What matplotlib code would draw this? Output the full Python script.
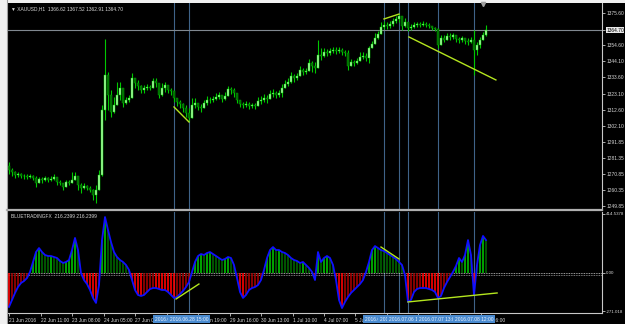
import numpy as np
import matplotlib.pyplot as plt
import matplotlib.transforms as mtransforms
from matplotlib.patches import Rectangle
from matplotlib.lines import Line2D

plt.rcParams['font.family'] = ['Liberation Sans Narrow', 'Liberation Sans', 'DejaVu Sans']

# XAUUSD price bars (2h-ish resampling of the H1 chart)
first_open = 1276.0
closes = [
    1273.3, 1272.0, 1270.1, 1270.7, 1269.4, 1269.4, 1268.8, 1269.4, 1268.1, 1264.9,
    1267.5, 1266.8, 1268.1, 1266.8, 1267.5, 1268.8, 1265.5, 1264.9, 1262.2, 1265.5,
    1264.9, 1266.8, 1269.4, 1263.5, 1261.6, 1262.9, 1261.6, 1260.3, 1257.0, 1260.3,
    1270.1, 1312.4, 1335.2, 1322.2, 1311.1, 1315.7, 1322.2, 1326.7, 1317.0, 1318.9,
    1320.2, 1333.3, 1330.0, 1328.0, 1325.4, 1326.7, 1327.4, 1326.7, 1331.3, 1330.0,
    1322.2, 1326.7, 1328.7, 1325.4, 1324.8, 1320.2, 1317.6, 1316.3, 1313.7, 1310.5,
    1307.2, 1315.7, 1317.0, 1314.4, 1313.7, 1317.0, 1318.9, 1318.9, 1319.6, 1320.9,
    1322.2, 1319.6, 1321.5, 1326.1, 1325.4, 1323.5, 1318.9, 1316.3, 1315.7, 1316.3,
    1315.0, 1315.7, 1315.0, 1318.3, 1318.9, 1320.2, 1319.6, 1322.8, 1323.5, 1322.2,
    1323.5, 1326.7, 1329.3, 1330.6, 1334.6, 1333.3, 1334.6, 1338.5, 1337.2, 1337.8,
    1343.0, 1341.1, 1339.8, 1348.2, 1347.6, 1350.2, 1349.5, 1350.8, 1351.5, 1350.8,
    1351.5, 1350.2, 1349.5, 1341.1, 1343.7, 1343.0, 1344.3, 1346.9, 1347.6, 1346.3,
    1352.8, 1355.4, 1359.3, 1361.9, 1366.5, 1367.8, 1367.1, 1368.4, 1370.4, 1371.7,
    1373.7, 1367.1, 1369.7, 1365.8, 1366.5, 1367.8, 1368.4, 1367.8, 1368.4, 1367.8,
    1367.1, 1365.8, 1365.2, 1354.8, 1359.3, 1358.0, 1360.6, 1360.0, 1361.3, 1358.7,
    1358.0, 1359.3, 1357.4, 1356.7, 1358.0, 1351.5, 1354.8, 1358.0, 1361.3, 1364.7]
highs = [
    1278.5, 1274.6, 1272.7, 1272.0, 1271.4, 1270.7, 1270.7, 1270.7, 1270.1, 1269.4,
    1268.8, 1268.8, 1269.4, 1268.8, 1269.4, 1270.7, 1268.1, 1266.8, 1264.9, 1266.8,
    1266.8, 1272.0, 1272.0, 1268.1, 1264.9, 1264.9, 1263.5, 1262.9, 1260.9, 1263.5,
    1273.3, 1315.7, 1358.7, 1337.2, 1325.4, 1320.9, 1330.7, 1330.7, 1320.9, 1320.9,
    1322.2, 1336.5, 1333.3, 1332.0, 1328.7, 1328.7, 1329.3, 1328.7, 1333.3, 1333.3,
    1326.7, 1330.0, 1330.7, 1327.4, 1326.7, 1325.4, 1320.2, 1318.9, 1317.0, 1315.7,
    1313.7, 1320.2, 1320.2, 1317.0, 1316.3, 1318.9, 1321.5, 1320.9, 1321.5, 1323.5,
    1324.1, 1322.2, 1324.1, 1328.0, 1327.4, 1326.7, 1323.5, 1318.3, 1317.6, 1318.3,
    1317.6, 1317.0, 1317.0, 1320.9, 1321.5, 1322.8, 1322.2, 1325.4, 1326.1, 1324.8,
    1325.4, 1329.3, 1332.0, 1333.3, 1337.2, 1335.9, 1336.5, 1341.1, 1339.8, 1339.8,
    1345.6, 1344.3, 1343.7, 1358.0, 1352.8, 1352.8, 1352.2, 1352.8, 1353.5, 1353.5,
    1353.5, 1352.8, 1351.5, 1351.5, 1345.6, 1345.0, 1346.3, 1350.2, 1350.2, 1349.5,
    1354.1, 1357.4, 1362.6, 1363.9, 1369.7, 1370.4, 1369.7, 1370.4, 1372.3, 1373.7,
    1375.0, 1373.7, 1372.3, 1368.4, 1368.4, 1369.7, 1369.7, 1369.7, 1370.4, 1369.7,
    1369.1, 1367.1, 1366.5, 1365.8, 1361.3, 1361.3, 1362.6, 1362.6, 1362.6, 1360.6,
    1360.0, 1360.6, 1359.3, 1359.3, 1360.0, 1364.5, 1356.7, 1360.0, 1363.2, 1367.8]
lows = [
    1270.7, 1269.4, 1268.1, 1268.8, 1268.1, 1267.5, 1267.5, 1268.1, 1266.8, 1262.2,
    1265.5, 1264.9, 1266.2, 1265.5, 1266.2, 1266.8, 1263.5, 1263.5, 1260.3, 1263.5,
    1263.5, 1265.5, 1266.8, 1260.3, 1258.3, 1260.9, 1260.3, 1259.0, 1253.8, 1251.8,
    1261.6, 1269.4, 1305.9, 1312.4, 1307.9, 1310.5, 1315.7, 1318.9, 1314.4, 1316.3,
    1317.6, 1320.2, 1326.7, 1325.4, 1323.5, 1323.5, 1325.4, 1325.4, 1326.7, 1327.4,
    1320.2, 1321.5, 1324.1, 1323.5, 1322.2, 1317.6, 1315.0, 1313.7, 1311.1, 1307.9,
    1305.2, 1307.2, 1313.7, 1312.4, 1311.1, 1313.7, 1315.7, 1317.0, 1317.6, 1318.9,
    1319.6, 1317.6, 1318.9, 1322.2, 1322.8, 1320.9, 1317.0, 1314.4, 1313.7, 1314.4,
    1313.1, 1313.7, 1313.1, 1315.7, 1316.3, 1317.6, 1317.0, 1320.2, 1320.9, 1320.2,
    1320.9, 1320.9, 1326.7, 1328.0, 1330.0, 1330.7, 1332.0, 1335.9, 1335.2, 1335.9,
    1339.8, 1337.2, 1336.5, 1343.7, 1345.0, 1346.9, 1347.6, 1348.2, 1349.5, 1348.9,
    1349.5, 1348.2, 1347.6, 1338.5, 1341.7, 1341.1, 1342.4, 1345.0, 1345.6, 1344.3,
    1343.0, 1352.8, 1356.7, 1358.7, 1362.6, 1365.2, 1365.2, 1365.8, 1367.1, 1369.1,
    1369.7, 1364.5, 1366.5, 1363.9, 1364.5, 1365.8, 1366.5, 1366.5, 1367.1, 1366.5,
    1365.8, 1364.5, 1363.9, 1352.8, 1355.4, 1356.7, 1358.0, 1358.0, 1358.7, 1356.7,
    1356.1, 1356.7, 1355.4, 1354.8, 1356.1, 1335.2, 1348.2, 1352.8, 1358.0, 1360.6]

# BLUETRADINGFX oscillator
indicator = [
    -242, -193, -144, -102, -74, -60, -39, 4, 74, 144,
    172, 144, 123, 116, 116, 109, 102, 81, 67, 74,
    88, 158, 243, 158, -5, -53, -81, -123, -179, -214,
    -88, 228, 390, 299, 214, 144, 109, 88, 74, 53,
    18, -53, -123, -158, -165, -158, -137, -116, -109, -109,
    -116, -123, -123, -137, -158, -179, -172, -151, -130, -102,
    -67, 4, 74, 116, 130, 123, 137, 144, 130, 116,
    102, 88, 95, 109, 102, 53, -39, -137, -179, -158,
    -123, -109, -102, -88, -53, 18, 102, 158, 179, 158,
    158, 144, 137, 123, 102, 88, 81, 67, 74, 53,
    32, 4, -53, 144, 74, 102, 116, 102, 53, -53,
    -193, -250, -207, -172, -144, -123, -102, -81, -53, 4,
    74, 158, 186, 172, 158, 151, 137, 123, 109, 95,
    74, 53, -18, -207, -193, -137, -116, -109, -109, -109,
    -116, -123, -137, -179, -165, -109, -67, -32, 4, 46,
    102, 74, 123, 228, 123, -158, 53, 193, 257, 228]

last_price = 1364.70
price_ticks = [1375.60, 1364.70, 1354.60, 1344.10, 1333.60, 1323.10, 1312.60,
               1302.10, 1291.85, 1281.35, 1270.85, 1260.35, 1249.85]
ind_ticks = [414.5378, 0.0, -271.018]
ind_tick_labels = ['414.5378', '0.00', '-271.018']
ind_level2 = -20

date_pos = [0, 10.5, 21, 31.5, 42, 52.5, 63, 73.5, 84, 94.5, 105, 115.5, 126, 136.5, 147, 157.5]
date_labels = ['21 Jun 2016', '22 Jun 11:00', '23 Jun 08:00', '24 Jun 05:00', '27 Jun 02:00',
               '27 Jun 22:00', '28 Jun 19:00', '29 Jun 16:00', '30 Jun 13:00', '1 Jul 10:00',
               '4 Jul 07:00', '5 Jul 04:00', '6 Jul 01:00', '6 Jul 22:00', '7 Jul 19:00',
               '8 Jul 16:00']

vlines_pos = [55, 60, 125, 130, 133, 143, 155]
vlines_labels = ['2016.06.28 05:00', '2016.06.28 15:00', '2016.07.06 00:00', '2016.07.06 10:00',
                 '2016.07.06 17:00', '2016.07.07 13:00', '2016.07.08 12:00']

# trend lines: (x0, y0, x1, y1)
price_trends = [(55, 1314.4, 60, 1304.6), (125, 1371.7, 130, 1374.9), (133.3, 1360.0, 162.3, 1332.0)]
ind_trends = [(55.7, -186, 63.3, -81), (124, 179, 130, 95), (133, -207, 162.7, -144)]

W, H = 625, 324
fig = plt.figure(figsize=(W / 100, H / 100), dpi=100, facecolor='#f0f0f0')


def px_box(l, t, r, b):
    return [l / W, 1 - b / H, (r - l) / W, (b - t) / H]


fig.add_artist(Rectangle((7 / W, 0), 1 - 7 / W, 1 - 3 / H, transform=fig.transFigure,
                         facecolor='black', edgecolor='none', zorder=0))
fig.add_artist(Line2D([6.5 / W, 6.5 / W], [0, 1], transform=fig.transFigure, color='#a0a0a0', lw=0.8))

ax = fig.add_axes(px_box(7, 3, 602, 210))
ax2 = fig.add_axes(px_box(7, 212, 602, 313))

grid_col = '#c8c8c8'
text_col = '#d8d8d8'
fsize = 3.5

for a in (ax, ax2):
    a.set_facecolor('black')
    for s in ('top', 'left'):
        a.spines[s].set_visible(False)
    a.spines['right'].set_color(grid_col)
    a.spines['right'].set_linewidth(0.8)
    a.yaxis.tick_right()
    a.tick_params(axis='y', colors=grid_col, labelcolor=text_col, labelsize=fsize,
                  length=2, width=0.6, pad=1)
    a.set_xlim(-0.67, 197.67)
ax2.tick_params(axis='y', labelsize=3.2, pad=0.6)

ax.spines['bottom'].set_color('#b0b0b0')
ax.spines['bottom'].set_linewidth(1.6)
ax2.spines['bottom'].set_color(grid_col)
ax2.spines['bottom'].set_linewidth(0.8)

# --- price panel
x = np.arange(len(closes))
c = np.array(closes)
o = np.r_[first_open, c[:-1]]
hi = np.maximum(np.array(highs), np.maximum(o, c))
lo = np.minimum(np.array(lows), np.minimum(o, c))
up = c >= o

ax.set_ylim(1247.3, 1382.1)
for v in vlines_pos:
    ax.axvline(v, color='#3f6388', lw=0.8, zorder=1)
    ax2.axvline(v, color='#3f6388', lw=0.8, zorder=1)
ax.axhline(last_price, color='#808890', lw=0.8, zorder=1)

ax.vlines(x, lo, hi, color='#00c800', lw=0.8, zorder=2)
ax.bar(x[up], (c - o)[up], bottom=o[up], width=0.55, color='#a8f5a0',
       edgecolor='#00e000', lw=0.3, zorder=3)
ax.bar(x[~up], (c - o)[~up], bottom=o[~up], width=0.55, color='#006a00',
       edgecolor='#00a800', lw=0.3, zorder=3)

for x0, y0, x1, y1 in price_trends:
    ax.plot([x0, x1], [y0, y1], color='#b4e61e', lw=1.0, zorder=4)

ax.plot([158], [1381.3], marker='v', color='#a0a0a0', ms=3, clip_on=False, zorder=5)

ax.set_yticks(price_ticks)
ax.set_yticklabels(['%.2f' % p for p in price_ticks])
for t in ax.get_yticklabels():
    if t.get_text() == '%.2f' % last_price:
        t.set_color('black')
        t.set_bbox(dict(boxstyle='square,pad=0.1', fc='#e8e8e8', ec='none'))
ax.set_xticks([])

ax.text(0.006, 0.985, '\u25bc XAUUSD,H1  1366.62 1367.52 1362.91 1364.70', transform=ax.transAxes,
        ha='left', va='top', color=text_col, fontsize=fsize)

# --- indicator panel
ind = np.array(indicator, dtype=float)
ax2.set_ylim(-284.7, 425.3)
ax2.axhline(0, color='#d0d0d0', lw=0.6, ls=(0, (1, 1)), zorder=1)
ax2.axhline(ind_level2, color='#a0a0a0', lw=0.6, ls=(0, (1, 1)), zorder=1)

d = np.abs(ind) - np.abs(np.r_[ind[0], ind[:-1]])
cols = []
for v, dv in zip(ind, d):
    if v >= 0:
        cols.append('#00c000' if dv >= 0 else '#006400')
    else:
        cols.append('#ff0000' if dv >= 0 else '#a00000')
ax2.vlines(x, 0, ind, colors=cols, lw=1.2, zorder=2)
ax2.plot(x, ind, color='#1010ff', lw=1.3, zorder=3)

for x0, y0, x1, y1 in ind_trends:
    ax2.plot([x0, x1], [y0, y1], color='#b4e61e', lw=1.0, zorder=4)

ax2.set_yticks(ind_ticks)
ax2.set_yticklabels(ind_tick_labels)
ax2.text(0.007, 0.985, 'BLUETRADINGFX  216.2399 216.2399', transform=ax2.transAxes,
         ha='left', va='top', color=text_col, fontsize=fsize)

ax2.set_xticks(date_pos)
ax2.set_xticklabels(date_labels)
ax2.tick_params(axis='x', colors=grid_col, labelcolor=text_col, labelsize=fsize,
                length=2, width=0.6, pad=1.5)
for t in ax2.get_xticklabels():
    t.set_ha('left')

trans = mtransforms.blended_transform_factory(ax2.transData, ax2.transAxes)
for v, lab in zip(vlines_pos, vlines_labels):
    ax2.text(v, -0.035, lab, transform=trans, ha='center', va='top', color='#eaf2ff',
             fontsize=fsize, clip_on=False, zorder=10,
             bbox=dict(boxstyle='square,pad=0.3', fc='#4a8bd0', ec='none'))

fig.savefig('out.png', dpi=100, facecolor=fig.get_facecolor())
